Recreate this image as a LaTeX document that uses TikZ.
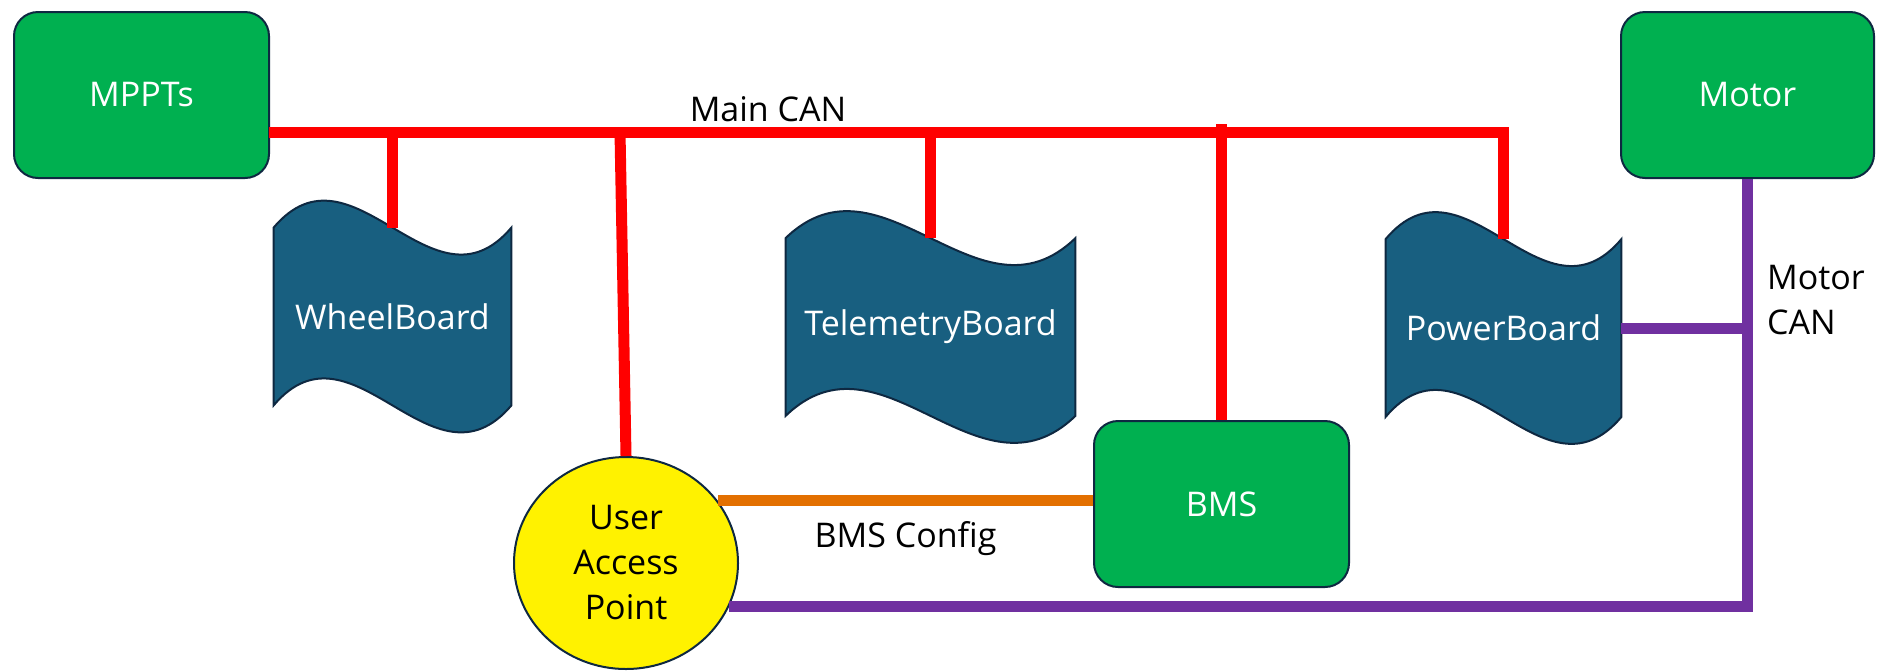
\documentclass[tikz,border=0pt]{standalone}
\usepackage{fontspec}
\setmainfont{Open Sans}
\usetikzlibrary{shapes.geometric,calc,backgrounds}
\definecolor{boxgreen}{HTML}{00B050}
\definecolor{boardblue}{HTML}{185F80}
\definecolor{outline}{HTML}{0E2841}
\definecolor{cfgorange}{HTML}{E37000}
\definecolor{canpurple}{HTML}{7030A0}
% wavy punched-tape outline round a board node
\newcommand{\wave}[1]{%
  \path [draw=outline,fill=boardblue,line width=1pt]
    let \p1=(#1.north west), \p2=(#1.south east), \n1={(\x2-\x1)/3} in
    (\p1) .. controls ({\x1+\n1},{\y1+46.7pt}) and ({\x2-\n1},{\y1-46.7pt}) .. (\x2,\y1)
    -- (\p2) .. controls ({\x2-\n1},{\y2-46.7pt}) and ({\x1+\n1},{\y2+46.7pt}) .. (\x1,\y2)
    -- cycle;}
\begin{document}
\begin{tikzpicture}
    [x=0.5pt,y=-0.5pt,font=\fontsize{17}{22.5}\selectfont,
     box/.style={draw=outline,fill=boxgreen,text=white,line width=1pt,rounded corners=12pt,minimum height=83pt},
     board/.style={text=white,inner sep=0pt,minimum height=88.5pt},
     can/.style={draw=red,line width=5.5pt},
     mcan/.style={draw=canpurple,line width=5.5pt},
     cfg/.style={draw=cfgorange,line width=5.5pt}]
    \useasboundingbox (0,0) rectangle (1882,670);
    \node [box,minimum width=127.5pt] (MPPT) at (141.5,95) {MPPTs};
    \node [box,minimum width=126.5pt] (MOT) at (1747.5,95) {Motor};
    \node [board,minimum width=118.5pt] (WB) at (392.5,316.5) {WheelBoard};
    \node [board,minimum width=144.5pt] (TB) at (930.5,327) {TelemetryBoard};
    \node [board,minimum width=117.5pt] (PB) at (1503.5,328) {PowerBoard};
    \begin{scope}[on background layer]
      \wave{WB} \wave{TB} \wave{PB}
    \end{scope}
    \node [box,minimum width=127.5pt] (BMS) at (1221.5,504) {BMS};
    \node [shape=ellipse,draw=outline,fill=yellow,line width=1pt,inner sep=0pt,
      minimum width=112pt,minimum height=106pt,align=center] (UAP) at (626,563) {User\\Access\\Point};
    % main CAN bus
    \coordinate (bus) at (269,132);
    \draw [can] (bus) -| (PB.north);
    \node (lbl) at (768,109) {Main CAN};
    \draw [can] (WB.north) -- (WB.north |- bus);
    \draw [can] (TB.north) -- (TB.north |- bus);
    \draw [can] (UAP.north) -- ([xshift=-3pt]UAP.north |- bus);
    \draw [can] (BMS.north) -- ([yshift=4pt]BMS.north |- bus);
    % motor CAN
    \draw [mcan] (UAP.-23) -| (MOT.south);
    \draw [mcan] (PB.east) -- (PB.east -| MOT.south);
    \node [anchor=west,align=left] (mlbl) at (1760,300) {Motor\\CAN};
    % config link
    \draw [cfg] (UAP.34) -- (UAP.34 -| BMS.west)
      node [midway,below=4pt] {BMS Config};
\end{tikzpicture}
\end{document}
